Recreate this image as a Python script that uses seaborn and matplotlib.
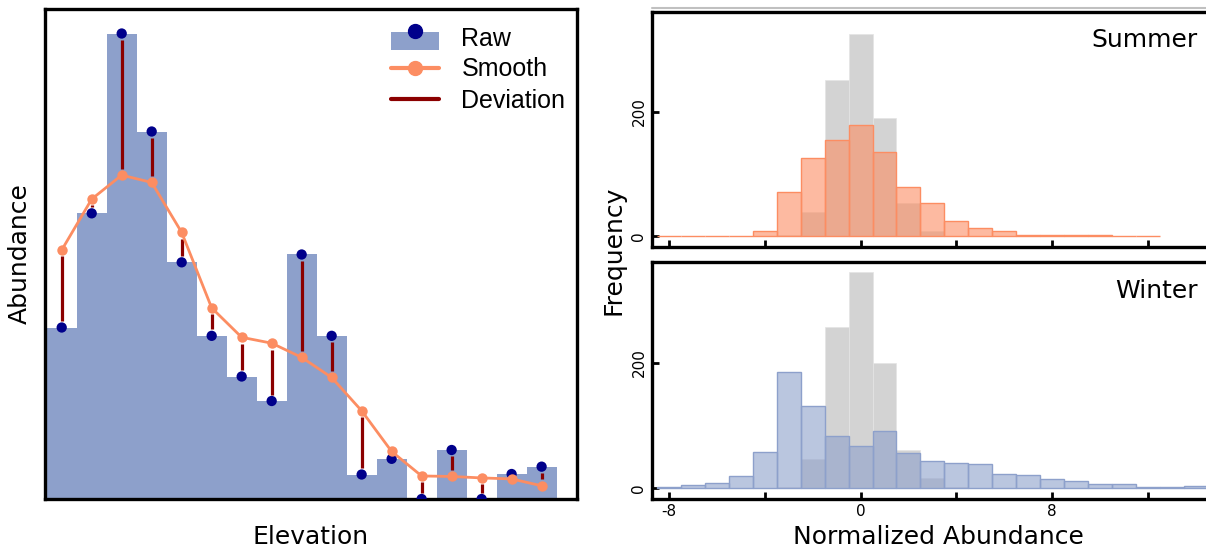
import pandas as pd
import matplotlib
matplotlib.use('Agg')
import matplotlib.pyplot as plt
from matplotlib.lines import Line2D
from matplotlib.patches import Rectangle
from matplotlib.legend_handler import HandlerBase
import seaborn as sns

# Левая панель: сырые и сглаженные значения по высоте
elevation_idx = list(range(17))
raw = [35.0, 58.3, 95.0, 75.0, 48.3, 33.3, 25.0, 20.0, 49.9, 33.3, 5.0, 8.2, 0.0, 10.0, 0.0, 5.1, 6.6]
smooth = [50.8, 61.2, 66.1, 64.6, 54.4, 39.0, 33.0, 31.8, 28.9, 24.8, 18.0, 9.7, 4.7, 4.6, 4.3, 4.1, 2.7]

# Правые панели: частоты по бинам шириной 1, первый бин с центром *_first
summer_first = -8
summer = [1, 1, 1, 1, 9, 71, 125, 155, 178, 135, 79, 54, 25, 13, 8, 2, 3, 2, 2, 1, 1]
winter_first = -8
winter = [1, 4, 7, 19, 58, 185, 131, 83, 66, 91, 55, 43, 40, 38, 22, 21, 14, 11, 6, 6, 1, 2, 3, 2, 1]
grey_first = -3
grey_summer = [3, 39, 250, 325, 190, 53, 9, 1]
grey_winter = [2, 46, 257, 344, 200, 61, 15, 1]

BLUE = '#8da0cb'
ORANGE = '#fc8d62'
NAVY = '#00008b'
DARKRED = '#8b0000'

sns.set_theme(style='white')
plt.rcParams['font.family'] = ['DejaVu Sans']
for key in ('text.color', 'axes.labelcolor', 'xtick.color', 'ytick.color'):
    plt.rcParams[key] = 'black'

fig = plt.figure(figsize=(12.06, 5.47), dpi=100)
W, H = 1206, 547


def px_axes(left, top, right, bottom):
    return fig.add_axes([left / W, (H - bottom) / H, (right - left) / W, (bottom - top) / H])


# ---------- левая панель ----------
ax = px_axes(45, 9, 577, 499)
sns.histplot(x=elevation_idx, weights=raw, discrete=True, element='step', fill=True,
             color=BLUE, alpha=1, linewidth=0, ax=ax, zorder=1)
shrink = 1.3
lo = [min(r, s) + shrink for r, s in zip(raw, smooth)]
hi = [max(r, s) - shrink for r, s in zip(raw, smooth)]
ax.vlines(elevation_idx, lo, hi, color=DARKRED, linewidth=2.3, zorder=2)
sns.scatterplot(x=elevation_idx, y=raw, color=NAVY, s=55, edgecolor='none', ax=ax, zorder=3)
sns.lineplot(x=elevation_idx, y=smooth, color=ORANGE, marker='o', markersize=7.5,
             markeredgewidth=0, linewidth=2, ax=ax, zorder=4)
ax.set_xlim(-0.557, 17.18)
ax.set_ylim(0, 100)
ax.set_xticks([])
ax.set_yticks([])
for sp in ax.spines.values():
    sp.set_color('black')
    sp.set_linewidth(2.4)
ax.set_xlabel('Elevation', fontsize=18)
ax.set_ylabel('Abundance', fontsize=18)
ax.xaxis.set_label_coords(0.5, -0.053)
ax.yaxis.set_label_coords(-0.024, 0.5)


class RawHandler(HandlerBase):
    def create_artists(self, legend, orig_handle, xdescent, ydescent, width, height, fontsize, trans):
        rect = Rectangle((-xdescent, -ydescent - 0.25 * height), width, height * 1.05,
                         facecolor=BLUE, edgecolor='none', transform=trans)
        dot = Line2D([width / 2 - xdescent], [height * 0.85 - ydescent], marker='o', linestyle='none',
                     color=NAVY, markersize=10, transform=trans)
        return [rect, dot]


h_raw = Rectangle((0, 0), 1, 1)
h_smooth = Line2D([], [], color=ORANGE, marker='o', markersize=10, linewidth=3)
h_dev = Line2D([], [], color=DARKRED, linewidth=3)
ax.legend([h_raw, h_smooth, h_dev], ['Raw', 'Smooth', 'Deviation'],
          handler_map={Rectangle: RawHandler()}, loc='upper right',
          bbox_to_anchor=(1.011, 1.0), frameon=False,
          prop={'family': 'Liberation Sans', 'size': 18},
          handlelength=1.9, handletextpad=0.9, labelspacing=0.28, borderpad=0.2)

# ---------- правые панели ----------
xlim = (-8.7, 15.2)
ax_top = px_axes(652, 11.7, 652 + (xlim[1] - xlim[0]) * 23.97, 247)
ax_bot = px_axes(652, 262.3, 652 + (xlim[1] - xlim[0]) * 23.97, 498.5)


def hist(axis, first, counts, color, alpha, edge, lw):
    df = pd.DataFrame({'x': [float(first + i) for i in range(len(counts))],
                       'w': [float(c) for c in counts]})
    edges = [first - 0.5 + i for i in range(len(counts) + 1)]
    sns.histplot(data=df, x='x', weights='w', bins=edges, color=color, alpha=alpha,
                 edgecolor=edge, linewidth=lw, ax=axis)


panels = [(ax_top, grey_summer, summer_first, summer, ORANGE, 'Summer'),
          (ax_bot, grey_winter, winter_first, winter, BLUE, 'Winter')]
for a, grey, first, counts, color, name in panels:
    hist(a, grey_first, grey, 'lightgray', 1.0, '#e4e4e4', 0.5)
    hist(a, first, counts, color, 0.6, color, 1)
    a.set_xlim(*xlim)
    a.set_ylim(-17, 360)
    a.set_xticks([-8, -4, 0, 4, 8, 12])
    a.set_yticks([0, 200])
    a.set_yticklabels(['0', '200'])
    a.tick_params(bottom=True, left=True, direction='in', length=5, width=2,
                  color='black', labelsize=11, pad=4)
    a.tick_params(axis='y', labelrotation=90)
    for lbl in a.get_yticklabels():
        lbl.set_va('center')
    for sp in a.spines.values():
        sp.set_color('black')
        sp.set_linewidth(2.4)
    a.set_ylabel('')
    a.set_xlabel('')
    a.text(0.953, 0.93, name, transform=a.transAxes, ha='right', va='top', fontsize=18)

ax_top.set_xticklabels([])
ax_bot.set_xticklabels(['-8', '', '0', '', '8', ''])
ax_bot.set_xlabel('Normalized Abundance', fontsize=18)
ax_bot.xaxis.set_label_coords(0.5, -0.112)
fig.text(614 / W, (H - 250) / H, 'Frequency', rotation=90, ha='center', va='center', fontsize=18)

# тонкая серая линия над верхней панелью
fig.add_artist(Line2D([652 / W, 1], [(H - 8.3) / H] * 2, color='#c0c0c0', linewidth=1.5))

fig.savefig('out.png', dpi=100)
